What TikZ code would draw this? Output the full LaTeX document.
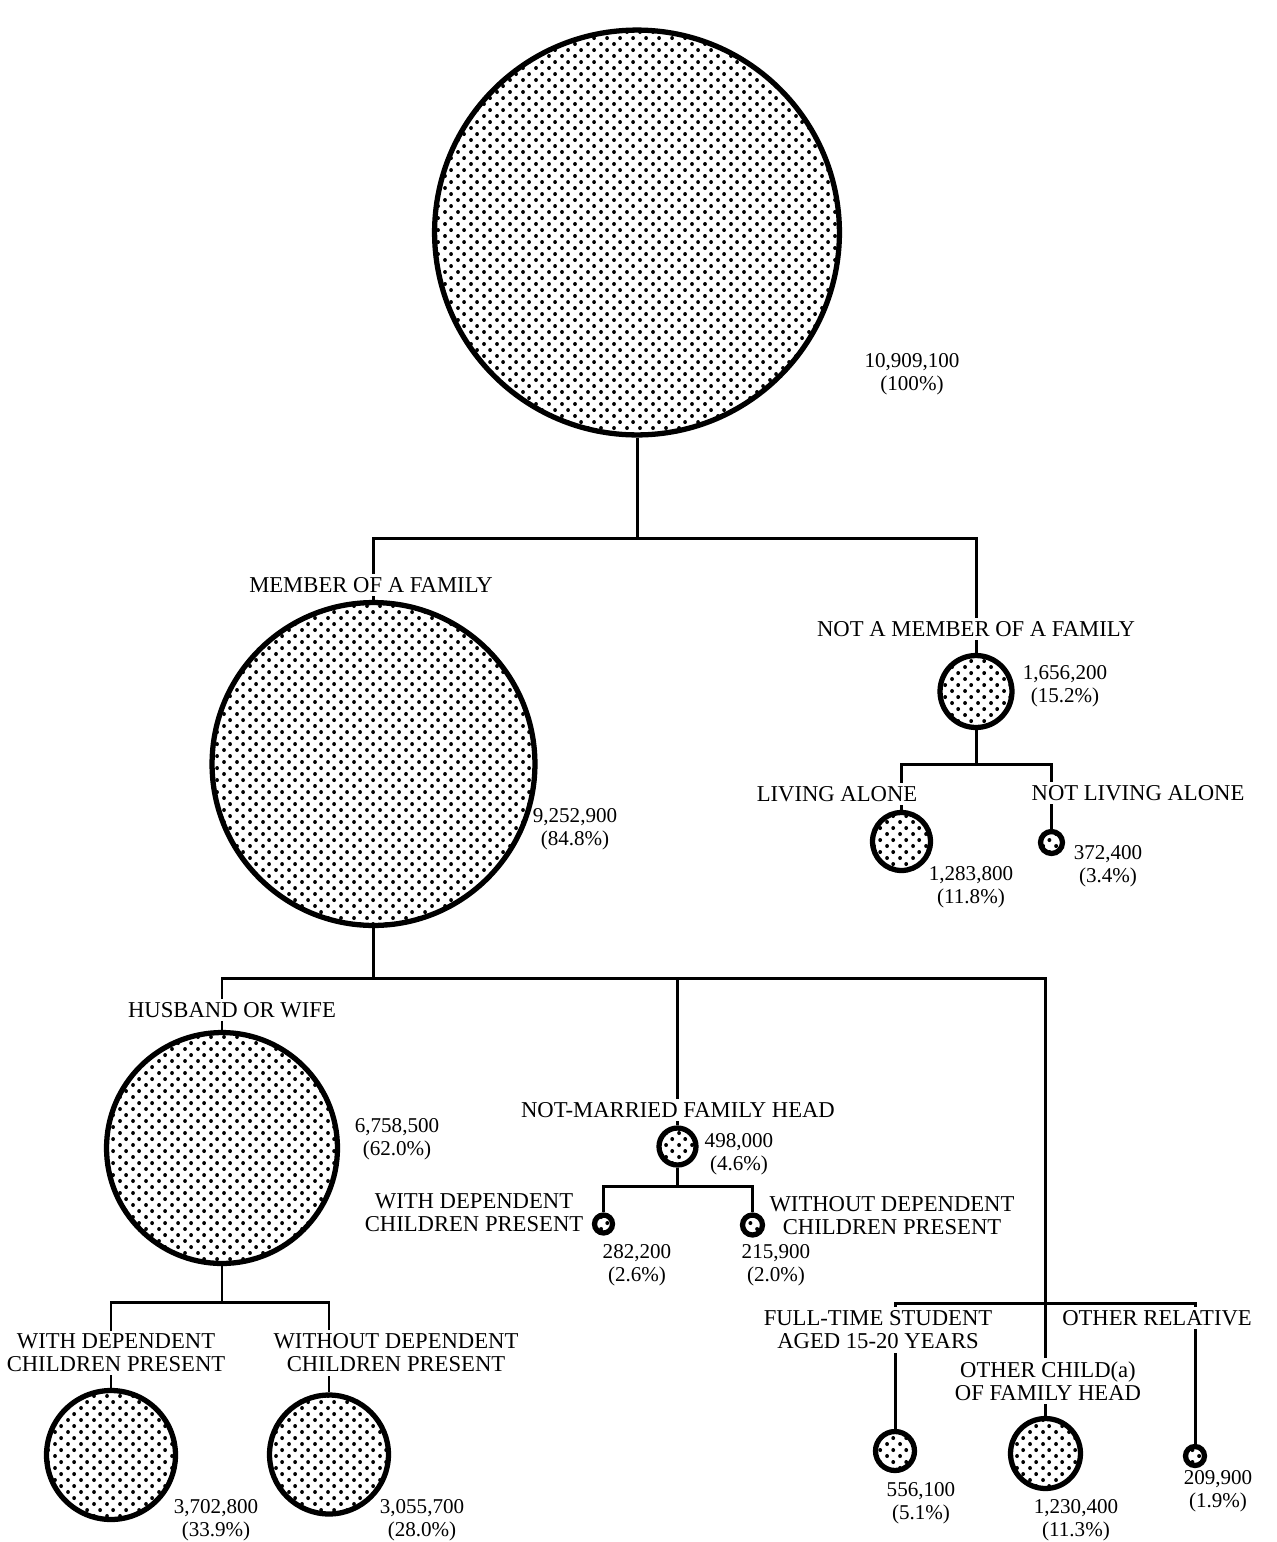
\documentclass[tikz,border=0pt]{standalone}
\usepackage{fontspec}
\setmainfont{Liberation Serif}
\usetikzlibrary{patterns.meta}

\tikzdeclarepattern{
  name=stipple,
  type=uncolored,
  bounding box={(0pt,0pt) and (7.4pt,6.8pt)},
  tile size={(7.4pt,6.8pt)},
  code={
    \fill (1.85pt,1.7pt) circle [radius=1.15pt];
    \fill (5.55pt,5.1pt) circle [radius=1.15pt];
  }
}

\begin{document}
\begin{tikzpicture}[
    x=0.02cm, y=-0.02cm,
    bub/.style={circle, draw=black, line width=3pt, pattern=stipple, pattern color=black, inner sep=0pt, minimum size=#1*0.04cm},
    link/.style={draw=black, line width=1.7pt},
    cat/.style={fill=white, inner sep=2pt, align=center, font=\fontsize{12.9}{13}\selectfont},
    num/.style={inner sep=1pt, align=center, font=\fontsize{12}{13}\selectfont}
]
    \useasboundingbox[fill=white] (0,0) rectangle (1276,1542);

    % circles
    \node[bub=202.5] (top) at (637,232.5) {};
    \node[bub=161.5] (member) at (373.5,764) {};
    \node[bub=36] (notmem) at (976,691.5) {};
    \node[bub=29] (alone) at (901.5,841.5) {};
    \node[bub=11] (notalone) at (1051.5,842.5) {};
    \node[bub=115.5] (husband) at (222,1148) {};
    \node[bub=64.5] (hwith) at (111,1455) {};
    \node[bub=59.5] (hwithout) at (329,1454.5) {};
    \node[bub=18.5] (nmhead) at (677.5,1146.5) {};
    \node[bub=9] (nmwith) at (603.5,1224) {};
    \node[bub=10] (nmwithout) at (752.5,1225) {};
    \node[bub=19.5] (student) at (895,1451) {};
    \node[bub=35] (child) at (1045.5,1453.5) {};
    \node[bub=9.5] (relative) at (1195,1456) {};

    % bar levels
    \coordinate (bar1) at (0,538);
    \coordinate (bar2) at (0,764);
    \coordinate (bar3) at (0,978);
    \coordinate (bar4) at (0,1302);
    \coordinate (bar5) at (0,1186);
    \coordinate (bar6) at (0,1303);

    \draw[link] (top.south) -- (top.south |- bar1);
    \draw[link] (member.north) |- (bar1 -| notmem.north) -- (notmem.north);

    \draw[link] (notmem.south) -- (notmem.south |- bar2);
    \draw[link] (alone.north) |- (bar2 -| notalone.north) -- (notalone.north);

    \draw[link] (member.south) -- (member.south |- bar3);
    \draw[link] (husband.north) |- (bar3 -| child.north) -- (child.north);
    \draw[link] (nmhead.north) -- (nmhead.north |- bar3);

    \draw[link] (husband.south) -- (husband.south |- bar4);
    \draw[link] (hwith.north) |- (bar4 -| hwithout.north) -- (hwithout.north);

    \draw[link] (nmhead.south) -- (nmhead.south |- bar5);
    \draw[link] (nmwith.north) |- (bar5 -| nmwithout.north) -- (nmwithout.north);

    \draw[link] (student.north) |- (bar6 -| relative.north) -- (relative.north);

    % category labels
    \node[cat] (lmember) at (371,585) {MEMBER OF A FAMILY};
    \node[cat] (lnotmem) at (976,629) {NOT A MEMBER OF A FAMILY};
    \node[cat] (lalone) at (837,794) {LIVING ALONE};
    \node[cat] (lnotalone) at (1138,793) {NOT LIVING ALONE};
    \node[cat] (lhusband) at (232,1010) {HUSBAND OR WIFE};
    \node[cat] (lnmhead) at (678,1110) {NOT-MARRIED FAMILY HEAD};
    \node[cat] (lhwith) at (116,1353) {WITH DEPENDENT\\CHILDREN PRESENT};
    \node[cat] (lhwithout) at (396,1353) {WITHOUT DEPENDENT\\CHILDREN PRESENT};
    \node[cat, fill=none] (lnmwith) at (474,1213) {WITH DEPENDENT\\CHILDREN PRESENT};
    \node[cat, fill=none] (lnmwithout) at (892,1216) {WITHOUT DEPENDENT\\CHILDREN PRESENT};
    \node[cat] (lstudent) at (878,1330) {FULL-TIME STUDENT\\AGED 15-20 YEARS};
    \node[cat] (lchild) at (1048,1381) {OTHER CHILD(a)\\OF FAMILY HEAD};
    \node[cat] (lrelative) at (1157,1318) {OTHER RELATIVE};

    % counts
    \node[num] (ntop) at (912,374) {10,909,100\\(100\%)};
    \node[num] (nmember) at (575,829) {9,252,900\\(84.8\%)};
    \node[num] (nnotmem) at (1065,686) {1,656,200\\(15.2\%)};
    \node[num] (nalone) at (971,887) {1,283,800\\(11.8\%)};
    \node[num] (nnotalone) at (1108,866) {372,400\\(3.4\%)};
    \node[num] (nhusband) at (397,1139) {6,758,500\\(62.0\%)};
    \node[num] (nhwith) at (216,1520) {3,702,800\\(33.9\%)};
    \node[num] (nhwithout) at (422,1520) {3,055,700\\(28.0\%)};
    \node[num] (nnmhead) at (739,1154) {498,000\\(4.6\%)};
    \node[num] (nnmwith) at (637,1265) {282,200\\(2.6\%)};
    \node[num] (nnmwithout) at (776,1265) {215,900\\(2.0\%)};
    \node[num] (nstudent) at (921,1503) {556,100\\(5.1\%)};
    \node[num] (nchild) at (1076,1520) {1,230,400\\(11.3\%)};
    \node[num] (nrelative) at (1218,1491) {209,900\\(1.9\%)};
\end{tikzpicture}
\end{document}
